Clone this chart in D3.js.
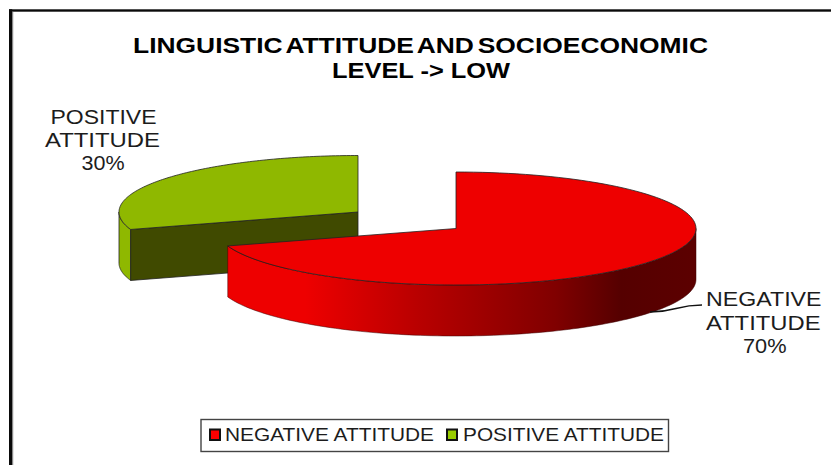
<!DOCTYPE html>
<html>
<head>
<meta charset="utf-8">
<style>
html,body{margin:0;padding:0;background:#fff}
svg{display:block}
text{font-family:"Liberation Sans",Arial,sans-serif;fill:#1c1c1c}
</style>
<script src="https://cdn.jsdelivr.net/npm/d3@7/dist/d3.min.js"></script>
</head>
<body>
<svg id="chart" width="831" height="465"></svg>
<script>
const categories = ["NEGATIVE ATTITUDE", "POSITIVE ATTITUDE"];
const shares = [70, 30];
const titleLines = ["LINGUISTIC ATTITUDE AND SOCIOECONOMIC", "LEVEL -> LOW"];
const topColors = ["#ee0000", "#8fb800"];
const legendColors = ["#ff0000", "#99cc00"];

const svg = d3.select("#chart");
const W = 831, H = 465;

// Stretched single-line text: the width is fixed and the glyphs widen to fill it
function fitText(parent, str, x0, x1, y, size, weight) {
  return parent.append("text")
    .attr("x", x0).attr("y", y)
    .attr("font-size", size).attr("font-weight", weight || "normal")
    .attr("textLength", x1 - x0).attr("lengthAdjust", "spacingAndGlyphs")
    .text(str);
}

// Outer chart frame: only the top and left edges fall inside the page
svg.append("rect").attr("x", 9).attr("y", 9.3).attr("width", W - 9).attr("height", 2.4).attr("fill", "#0a0a0a");
svg.append("rect").attr("x", 9).attr("y", 9.3).attr("width", 3.2).attr("height", H).attr("fill", "#0a0a0a");
svg.append("rect").attr("x", 12.2).attr("y", 11.7).attr("width", 1).attr("height", H).attr("fill", "#777");

// Title
const titleSpans = [[133, 708, 52.5, -3], [332, 510, 78.3, 0]];
titleLines.forEach((t, i) => {
  const [x0, x1, y, gap] = titleSpans[i];
  fitText(svg, t, x0, x1, y, 22, "bold")
    .style("word-spacing", gap + "px").style("fill", "#000");
});

// Projection of the tilted pie: angle around the disc -> page position
const rx = 240, ry = 56.5, depth = 51;
const project = (c, a, dy = 0, r = rx) => [c[0] + r * Math.sin(a), c[1] - ry * Math.cos(a) + dy];
const rimLine = d3.line();
const sample = (a0, a1) => d3.range(0, 121).map(i => a0 + (a1 - a0) * i / 120);

const pie = d3.pie().sort(null).value(d => d);
const slices = pie(shares);
const centers = [[456, 228.5], [358, 212]];

const grad = svg.append("defs").append("linearGradient").attr("id", "redSide")
  .attr("gradientUnits", "userSpaceOnUse").attr("x1", 228).attr("x2", 696).attr("y1", 0).attr("y2", 0);
grad.selectAll("stop")
  .data([[0, "#ee0000"], [0.165, "#ee0000"], [0.41, "#b80000"], [0.70, "#800000"], [0.84, "#550000"], [1, "#5c0000"]])
  .join("stop").attr("offset", d => d[0]).attr("stop-color", d => d[1]);

const outline = sel => sel.attr("stroke", "#222").attr("stroke-width", 0.8).attr("stroke-linejoin", "round");

// Positive slice first, since the negative slice overlaps it
{
  const s = slices[1], c = centers[1], color = topColors[1], r = 239;
  const tail = project(c, s.startAngle, 0, r);
  // Curved outer wall on the far left
  const wallAngles = sample(s.startAngle, 1.5 * Math.PI);
  const top = wallAngles.map(a => project(c, a, 0, r));
  const bottom = wallAngles.map(a => project(c, a, depth, r)).reverse();
  outline(svg.append("path").attr("d", rimLine(top.concat(bottom)) + "Z").attr("fill", color));
  // Cut face running back to the centre
  outline(svg.append("path")
    .attr("d", rimLine([c, tail, [tail[0], tail[1] + depth], [c[0], c[1] + depth]]) + "Z")
    .attr("fill", "#404a00"));
  // Top face
  outline(svg.append("path")
    .attr("d", rimLine([c].concat(sample(s.startAngle, s.endAngle).map(a => project(c, a, 0, r)))) + "Z")
    .attr("fill", color));
}

// Negative slice
{
  const s = slices[0], c = centers[0], color = topColors[0];
  const wallAngles = sample(Math.PI / 2, s.endAngle);
  const top = wallAngles.map(a => project(c, a));
  const bottom = wallAngles.map(a => project(c, a, depth)).reverse();
  svg.append("path").attr("d", rimLine(top.concat(bottom)) + "Z").attr("fill", "url(#redSide)")
    .attr("stroke", "#3a0000").attr("stroke-width", 0.5);
  outline(svg.append("path")
    .attr("d", rimLine([c].concat(sample(s.startAngle, s.endAngle).map(a => project(c, a)))) + "Z")
    .attr("fill", color));
}

// Slice labels, one stretched line at a time
const labelLines = [
  [categories[0].split(" ")[0], 706, 821.5, 306],
  [categories[0].split(" ")[1], 706, 820.5, 330],
  [shares[0] + "%", 743, 786.5, 353],
  [categories[1].split(" ")[0], 50.5, 156.5, 124.3],
  [categories[1].split(" ")[1], 45, 160, 147],
  [shares[1] + "%", 81.5, 124.5, 170]
];
labelLines.forEach(l => fitText(svg, l[0], l[1], l[2], l[3], 20));

// Leader line from the negative slice to its label
svg.append("path")
  .attr("d", d3.line().curve(d3.curveBumpX)([[650, 312], [702, 305]]))
  .attr("fill", "none").attr("stroke", "#111").attr("stroke-width", 1.3);

// Legend
svg.append("rect").attr("x", 201).attr("y", 419.5).attr("width", 467.5).attr("height", 32)
  .attr("fill", "#fff").attr("stroke", "#444").attr("stroke-width", 1.4);
const swatchX = [210, 447], textSpans = [[225, 434], [463, 664]];
categories.forEach((name, i) => {
  svg.append("rect").attr("x", swatchX[i]).attr("y", 429.5).attr("width", 10).attr("height", 10.5)
    .attr("fill", legendColors[i]).attr("stroke", "#111").attr("stroke-width", 2);
  fitText(svg, name, textSpans[i][0], textSpans[i][1], 440.8, 18.6);
});
</script>
</body>
</html>
